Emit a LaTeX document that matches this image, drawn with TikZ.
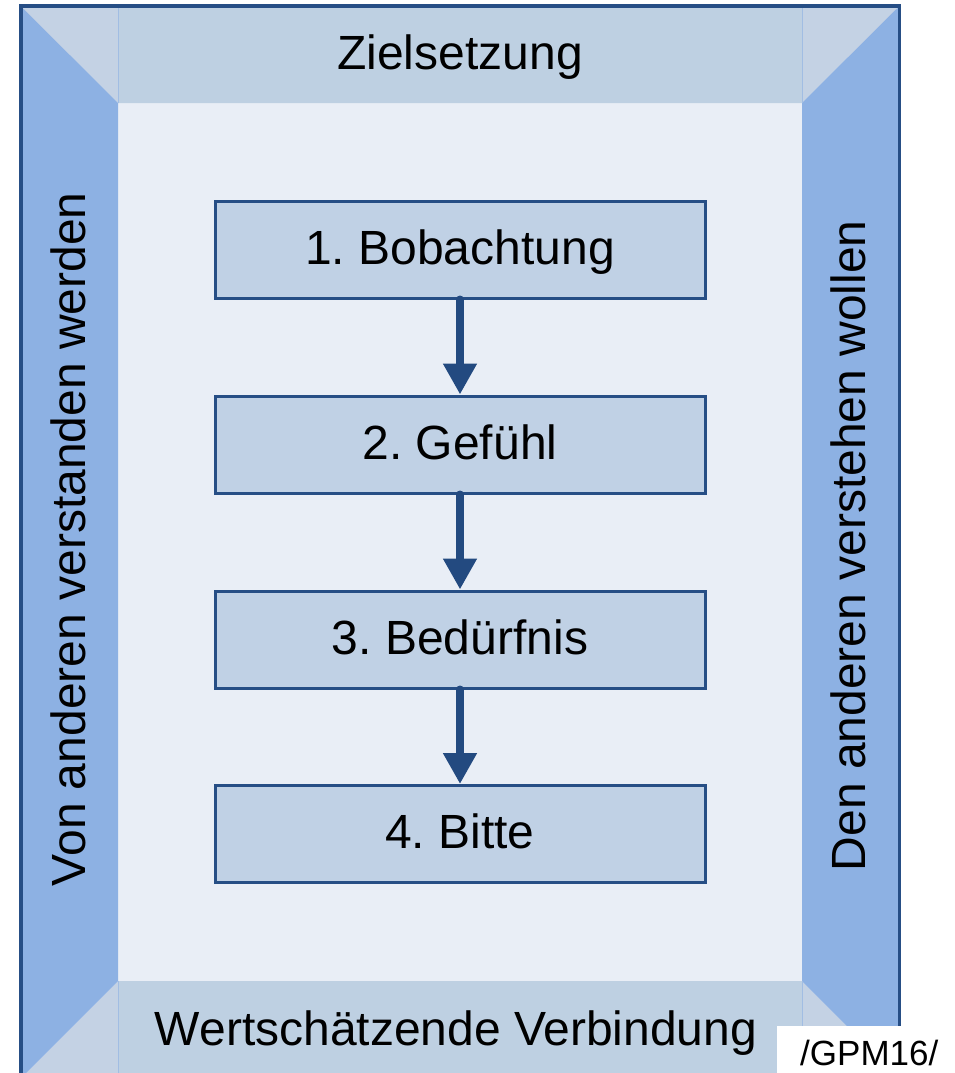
\documentclass[tikz,border=0pt]{standalone}
\usepackage{fontspec}
\setmainfont{Liberation Sans}
\usetikzlibrary{arrows.meta}
\definecolor{frameblue}{HTML}{264E85}
\definecolor{bandtop}{HTML}{BED0E2}
\definecolor{bandcorner}{HTML}{C4D2E4}
\definecolor{bandside}{HTML}{8DB1E3}
\definecolor{innerfill}{HTML}{E9EEF6}
\definecolor{boxfill}{HTML}{C0D1E5}
\definecolor{arrowblue}{HTML}{234A80}
\frenchspacing
\begin{document}
\begin{tikzpicture}[x=1pt,y=-1pt,
  bigtext/.style={font=\fontsize{48}{56}\selectfont, text=black, inner sep=0pt},
  stepbox/.style={bigtext, draw=frameblue, line width=3pt, fill=boxfill,
    minimum width=490pt, minimum height=97pt, text height=36pt, text depth=7pt},
  flow/.style={draw=arrowblue, line width=8pt, line cap=round,
    -{Triangle[width=32pt,length=31pt]}}]
\useasboundingbox (0,0) rectangle (955,1073);
\clip (0,0) rectangle (955,1073);

% inner field
\fill[innerfill] (118,103) rectangle (802,981);
% bevelled frame: top, bottom, left, right bands
\fill[bandtop] (22,7.5) -- (898,7.5) -- (802,103) -- (118,103) -- cycle;
\fill[bandtop] (22,1077) -- (898,1077) -- (802,981) -- (118,981) -- cycle;
\fill[bandcorner] (22,7.5) -- (118,7.5) -- (118,103) -- cycle;
\fill[bandcorner] (898,7.5) -- (802,7.5) -- (802,103) -- cycle;
\fill[bandcorner] (22,1077) -- (118,1077) -- (118,981) -- cycle;
\fill[bandcorner] (898,1077) -- (802,1077) -- (802,981) -- cycle;
\fill[bandside] (22,7.5) -- (118,103) -- (118,981) -- (22,1077) -- cycle;
\fill[bandside] (898,7.5) -- (802,103) -- (802,981) -- (898,1077) -- cycle;
\draw[bandside!60!bandtop, line width=0.6pt] (118,7.5) -- (118,103) (802,7.5) -- (802,103)
  (118,981) -- (118,1077) (802,981) -- (802,1077);
% outer border
\draw[frameblue, line width=3.5pt] (21,6) rectangle (899.5,1078);

% band labels
\node[bigtext, anchor=base] (goal) at (460,69.5) {Zielsetzung};
\node[bigtext, anchor=base] (bond) at (456,1045) {Wertschätzende Verbindung};
\node[bigtext, rotate=90, anchor=base east] (heard) at (85,192) {Von anderen verstanden werden};
\node[bigtext, rotate=90, anchor=base east] (listen) at (865,220) {Den anderen verstehen wollen};

% the four steps
\node[stepbox] (s1) at (460,249.5) {1. Bobachtung};
\node[stepbox] (s2) at (460,444.5) {2. Gefühl};
\node[stepbox] (s3) at (460,639.5) {3. Bedürfnis};
\node[stepbox] (s4) at (460,834) {4. Bitte};

\draw[flow] (s1.south) -- (s2.north);
\draw[flow] (s2.south) -- (s3.north);
\draw[flow] (s3.south) -- (s4.north);

% source tag
\fill[white] (777,1026) rectangle (960,1080);
\node[font=\fontsize{35}{40}\selectfont, inner sep=0pt, anchor=base west] (src) at (800,1065) {/GPM16/};
\end{tikzpicture}
\end{document}
